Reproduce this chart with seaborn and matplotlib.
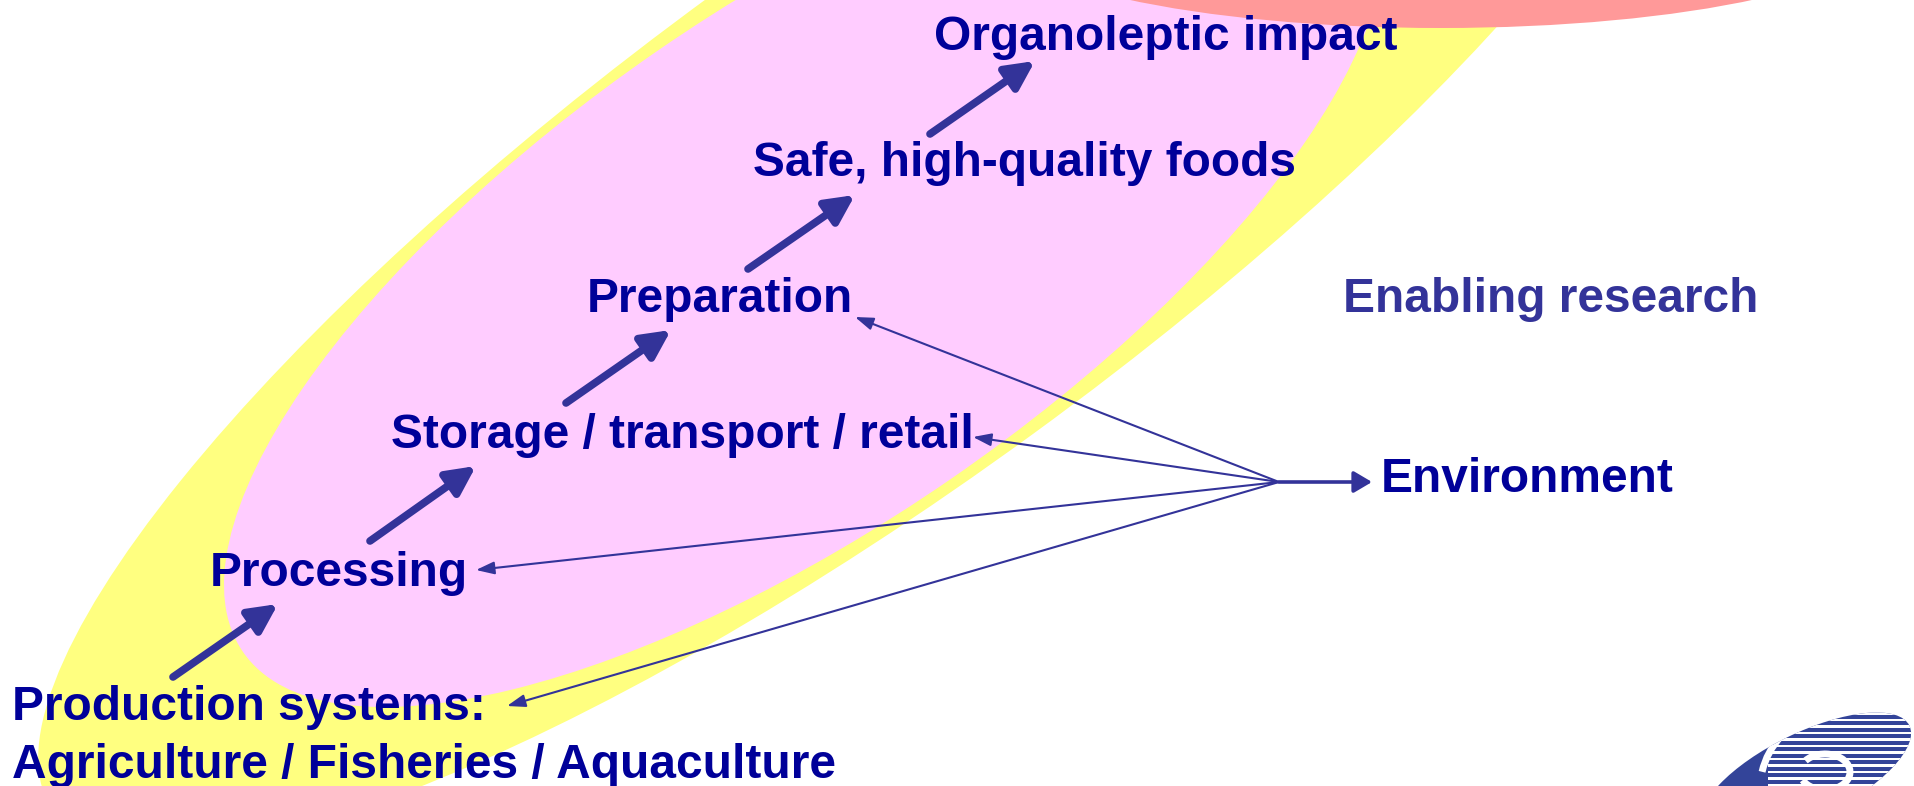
import numpy as np
import matplotlib
matplotlib.use("Agg")
import matplotlib.pyplot as plt
from matplotlib.patches import Ellipse, Rectangle, Arc
import seaborn as sns

# chain labels, bottom to top
stages = ["Production systems:", "Processing", "Storage / transport / retail",
          "Preparation", "Safe, high-quality foods", "Organoleptic impact"]
sub_label = "Agriculture / Fisheries / Aquaculture"
side_labels = ["Enabling research", "Environment"]
# stages touched by the environment
env_targets = ["Preparation", "Storage / transport / retail", "Processing",
               "Production systems:"]

sns.set_theme(style="white")
plt.rcParams['font.family'] = ['Liberation Sans', 'DejaVu Sans']

W, H = 1914, 786
fig = plt.figure(figsize=(W / 100, H / 100), dpi=100)
ax = fig.add_axes([0, 0, 1, 1])
ax.set_xlim(0, W)
ax.set_ylim(H, 0)
ax.axis('off')

navy = '#000099'
arrow_c = '#333399'
fs = 34.5

# background ellipses
ax.add_patch(Ellipse((873, 214), 2028, 544, angle=-36.1, color='#FFFF80', lw=0, zorder=1))
ax.add_patch(Ellipse((804, 265), 1363, 519, angle=-34.6, color='#FFCCFF', lw=0, zorder=2))
ax.add_patch(Ellipse((1441, -72), 896, 200, angle=0, color='#FF9999', lw=0, zorder=3))

# text positions (left x, centre y)
pos = {
    stages[0]: (12, 708),
    stages[1]: (210, 573),
    stages[2]: (391, 435),
    stages[3]: (587, 299),
    stages[4]: (753, 163),
    stages[5]: (934, 37),
}
for s in stages:
    x, y = pos[s]
    ax.text(x, y, s, color=navy, fontsize=fs, fontweight='bold',
            ha='left', va='center', zorder=5)
ax.text(12, 766, sub_label, color=navy, fontsize=fs, fontweight='bold',
        ha='left', va='center', zorder=5)

ax.text(1343, 300, side_labels[0], color=arrow_c, fontsize=fs,
        fontweight='bold', ha='left', va='center', zorder=5)
ax.text(1381, 480, side_labels[1], color=navy, fontsize=fs,
        fontweight='bold', ha='left', va='center', zorder=5)

# thick arrows up the chain
thick = [((173, 677), (278, 604)), ((370, 541), (476, 466)),
         ((566, 403), (671, 330)), ((748, 269), (855, 195)),
         ((930, 134), (1035, 61))]
for (x0, y0), (x1, y1) in thick:
    ax.annotate('', xy=(x1, y1), xytext=(x0, y0), zorder=6,
                arrowprops=dict(arrowstyle='-|>,head_length=1.0,head_width=0.5',
                                mutation_scale=17, color=arrow_c, lw=5.5,
                                shrinkA=0, shrinkB=0))

# thin arrows from the environment hub
hub = (1279, 482)
tips = {env_targets[0]: (855, 317), env_targets[1]: (973, 437),
        env_targets[2]: (476, 570), env_targets[3]: (507, 706)}
for t in env_targets:
    ax.annotate('', xy=tips[t], xytext=hub, zorder=6,
                arrowprops=dict(arrowstyle='-|>,head_length=1.1,head_width=0.38',
                                mutation_scale=10, color=arrow_c, lw=1.5,
                                shrinkA=0, shrinkB=0))
ax.annotate('', xy=(1372, 482), xytext=hub, zorder=6,
            arrowprops=dict(arrowstyle='-|>,head_length=1.1,head_width=0.65',
                            mutation_scale=10, color=arrow_c, lw=2.6,
                            shrinkA=0, shrinkB=0))

# logo, bottom right
logo = Ellipse((1806, 776), 230, 86, angle=-26, color='#334499', lw=0, zorder=4)
ax.add_patch(logo)
for yy in np.arange(712, 800, 6.5):
    r = Rectangle((1768, yy), 200, 2.5, color='white', lw=0, zorder=5)
    r.set_clip_path(logo)
    ax.add_patch(r)
six = Arc((1830, 790), 140, 150, angle=0, theta1=195, theta2=258,
          color='white', lw=5, zorder=6)
six.set_clip_path(logo)
ax.add_patch(six)
loop = Arc((1825, 772), 50, 36, angle=0, theta1=-150, theta2=160,
           color='white', lw=5, zorder=6)
loop.set_clip_path(logo)
ax.add_patch(loop)

fig.savefig('out.png', dpi=100)
